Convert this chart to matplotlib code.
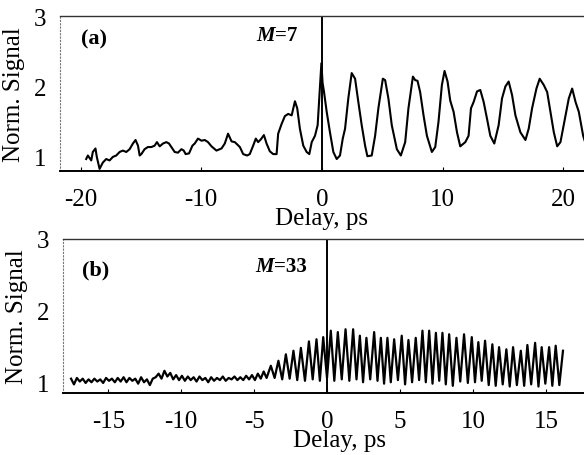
import matplotlib
matplotlib.use("Agg")
import matplotlib.pyplot as plt
import numpy as np

plt.rcParams['font.family'] = ['Liberation Serif', 'DejaVu Serif']

# (a) M=7 trace, delay in ps / normalised signal
a_delay = [-19.53, -19.39, -19.11, -18.98, -18.76, -18.65, -18.42, -18.15, -17.87, -17.59,
           -17.32, -17.04, -16.76, -16.49, -16.21, -15.93, -15.66, -15.44, -15.24, -15.10,
           -14.96, -14.69, -14.42, -14.13, -13.86, -13.67, -13.44, -13.17, -12.89, -12.67,
           -12.47, -12.20, -11.93, -11.64, -11.45, -11.29, -11.01, -10.73, -10.54, -10.27,
           -9.98, -9.71, -9.44, -9.15, -8.74, -8.32, -8.05, -7.78, -7.49, -7.22,
           -6.80, -6.53, -6.20, -5.98, -5.70, -5.48, -5.29, -5.06, -4.81, -4.59,
           -4.32, -4.04, -3.76, -3.63, -3.34, -3.07, -2.80, -2.51, -2.24, -2.05,
           -1.83, -1.55, -1.27, -1.05, -0.85, -0.58, -0.36, -0.17, -0.05, 0.05,
           0.17, 0.39, 0.66, 0.94, 1.22, 1.49, 1.72, 1.91, 2.18, 2.46,
           2.74, 3.01, 3.29, 3.57, 3.76, 4.12, 4.40, 4.67, 5.04, 5.23,
           5.50, 5.78, 6.20, 6.53, 6.89, 7.16, 7.53, 7.72, 7.91, 8.13,
           8.41, 8.69, 9.10, 9.38, 9.65, 9.93, 10.15, 10.40, 10.62, 10.90,
           11.18, 11.45, 11.87, 12.14, 12.34, 12.56, 12.84, 13.11, 13.39, 13.67,
           13.94, 14.27, 14.63, 14.91, 15.19, 15.46, 15.74, 16.02, 16.43, 16.85,
           17.12, 17.40, 17.76, 18.03, 18.37, 18.65, 18.92, 19.20, 19.48, 19.75,
           20.17, 20.44, 20.72, 21.00, 21.27, 21.63, 21.83]
a_signal = [0.97, 1.02, 0.95, 1.07, 1.12, 1.00, 0.83, 0.92, 0.97, 0.95,
            1.00, 1.02, 1.07, 1.09, 1.07, 1.11, 1.19, 1.24, 1.16, 1.02,
            1.04, 1.11, 1.14, 1.14, 1.16, 1.21, 1.15, 1.19, 1.21, 1.19,
            1.14, 1.07, 1.06, 1.11, 1.09, 1.04, 1.05, 1.16, 1.19, 1.26,
            1.23, 1.24, 1.21, 1.15, 1.09, 1.12, 1.19, 1.33, 1.22, 1.21,
            1.14, 1.04, 1.02, 1.04, 1.16, 1.26, 1.21, 1.25, 1.31, 1.19,
            1.08, 1.04, 1.04, 1.33, 1.47, 1.58, 1.61, 1.59, 1.79, 1.69,
            1.40, 1.16, 1.07, 1.04, 1.21, 1.30, 1.45, 2.00, 2.33, 2.05,
            1.92, 1.64, 1.35, 1.07, 0.97, 1.02, 1.26, 1.40, 1.83, 2.19,
            2.11, 1.78, 1.45, 1.16, 1.01, 1.02, 1.30, 1.69, 2.11, 2.09,
            1.83, 1.45, 1.11, 1.02, 1.21, 1.69, 2.14, 2.09, 2.08, 1.92,
            1.59, 1.30, 1.07, 1.14, 1.50, 2.02, 2.22, 2.07, 1.80, 1.64,
            1.35, 1.15, 1.21, 1.30, 1.69, 1.78, 1.93, 1.95, 1.78, 1.54,
            1.30, 1.19, 1.45, 1.83, 2.00, 2.07, 1.88, 1.59, 1.35, 1.24,
            1.40, 1.69, 1.97, 2.11, 2.02, 1.92, 1.64, 1.35, 1.15, 1.21,
            1.59, 1.83, 1.97, 1.78, 1.64, 1.30, 1.19]

# (b) M=33 trace: flat noisy part before the fringes start
b_pre_delay = [-17.55, -17.35, -17.15, -16.95, -16.75, -16.55, -16.35, -16.15, -15.95, -15.75,
               -15.55, -15.35, -15.15, -14.95, -14.75, -14.55, -14.35, -14.15, -13.95, -13.75,
               -13.55, -13.35, -13.15, -12.95, -12.75, -12.55, -12.35, -12.15, -11.95, -11.75,
               -11.55, -11.35, -11.15, -10.95, -10.75, -10.55, -10.35, -10.15, -9.95, -9.75,
               -9.55, -9.35, -9.15, -8.95, -8.75, -8.55, -8.35, -8.15, -7.95, -7.75,
               -7.55, -7.35, -7.15, -6.95, -6.75, -6.55, -6.35, -6.15, -5.95, -5.75,
               -5.55, -5.35, -5.15, -4.95, -4.75, -4.55, -4.35, -4.15]
b_pre_signal = [1.05, 0.97, 1.06, 1.01, 1.05, 0.99, 1.04, 1.00, 1.05, 1.01,
                1.04, 0.99, 1.06, 1.02, 1.05, 1.00, 1.06, 1.01, 1.07, 1.00,
                1.06, 1.02, 1.05, 0.98, 1.07, 1.00, 1.04, 0.96, 1.05, 1.07,
                1.12, 1.05, 1.16, 1.08, 1.13, 1.04, 1.10, 1.03, 1.09, 1.02,
                1.08, 1.03, 1.07, 1.01, 1.08, 1.03, 1.06, 1.00, 1.07, 1.02,
                1.06, 1.03, 1.08, 1.02, 1.06, 1.04, 1.08, 1.03, 1.07, 1.03,
                1.09, 1.04, 1.10, 1.03, 1.12, 1.05, 1.15, 1.06]

# (b) fringe maxima
b_peak_delay = [-3.86, -3.34, -2.83, -2.31, -1.80, -1.25, -0.73, -0.27, 0.25, 0.73,
                1.26, 1.78, 2.24, 2.69, 3.22, 3.68, 4.13, 4.59, 5.11, 5.57,
                6.07, 6.53, 6.99, 7.45, 7.90, 8.36, 8.86, 9.38, 9.91, 10.36,
                10.82, 11.32, 11.78, 12.28, 12.74, 13.27, 13.72, 14.25, 14.70, 15.21,
                15.66, 16.16]
b_peak_signal = [1.23, 1.30, 1.39, 1.44, 1.48, 1.57, 1.60, 1.63, 1.72, 1.70,
                 1.74, 1.74, 1.65, 1.62, 1.70, 1.62, 1.62, 1.60, 1.65, 1.59,
                 1.62, 1.72, 1.72, 1.69, 1.69, 1.67, 1.62, 1.67, 1.63, 1.56,
                 1.58, 1.53, 1.49, 1.46, 1.49, 1.44, 1.52, 1.55, 1.49, 1.49,
                 1.51, 1.44]

# (b) fringe minima
b_trough_delay = [-3.60, -3.08, -2.57, -2.05, -1.52, -0.99, -0.50, -0.01, 0.49, 1.00,
                  1.52, 2.01, 2.46, 2.95, 3.45, 3.90, 4.36, 4.85, 5.34, 5.82,
                  6.30, 6.76, 7.22, 7.68, 8.13, 8.61, 9.12, 9.64, 10.13, 10.59,
                  11.07, 11.55, 12.03, 12.51, 13.00, 13.50, 13.98, 14.48, 14.95, 15.43,
                  15.91]
b_trough_signal = [1.06, 1.04, 1.05, 1.03, 1.02, 1.04, 1.02, 1.06, 1.02, 1.04,
                   1.02, 1.04, 1.00, 1.04, 1.02, 0.98, 1.00, 1.03, 0.97, 1.00,
                   1.03, 1.00, 0.98, 1.02, 0.97, 0.95, 1.01, 0.99, 1.00, 1.02,
                   0.96, 0.95, 0.97, 0.94, 0.96, 0.95, 0.97, 0.94, 0.98, 0.95,
                   0.96]

b_delay = np.array(b_pre_delay + b_peak_delay + b_trough_delay)
b_signal = np.array(b_pre_signal + b_peak_signal + b_trough_signal)
order = np.argsort(b_delay)
b_delay, b_signal = b_delay[order], b_signal[order]

fig = plt.figure(figsize=(5.84, 4.56), dpi=100)
ax1 = fig.add_axes([0.1027, 0.6228, 0.8973, 0.3399])
ax2 = fig.add_axes([0.1079, 0.1360, 0.8921, 0.3377])


def style(ax, xlim, ylim, xticks):
    ax.set_xlim(*xlim)
    ax.set_ylim(*ylim)
    ax.set_xticks(xticks)
    ax.set_xticklabels([str(t) for t in xticks])
    ax.set_yticks([1, 2, 3])
    ax.spines['right'].set_visible(False)
    ax.spines['top'].set_linewidth(1.0)
    ax.spines['top'].set_color('#333333')
    ax.spines['bottom'].set_linewidth(1.4)
    ax.spines['left'].set_linestyle((0, (1, 2)))
    ax.spines['left'].set_linewidth(0.8)
    ax.spines['left'].set_color('#777777')
    ax.tick_params(axis='x', direction='in', length=3, width=0.8, pad=12, labelsize=18)
    ax.tick_params(axis='y', length=0, pad=10, labelsize=18)
    ax.set_ylabel('Norm. Signal', fontsize=18, labelpad=6)
    ax.set_xlabel('Delay, ps', fontsize=18)
    ax.axvline(0, color='black', lw=1.4)


def label_m(ax, x, y, value):
    m = ax.text(x, y, 'M', transform=ax.transAxes, fontsize=15,
                fontweight='bold', fontstyle='italic')
    ax.annotate('=' + value, xy=(1, 0), xycoords=m, va='bottom', ha='left',
                fontsize=15, fontweight='bold')


ax1.plot(a_delay, a_signal, color='black', lw=1.5)
style(ax1, (-21.7, 21.7), (0.8, 3.0), [-20, -10, 0, 10, 20])
ax1.xaxis.set_label_coords(0.5, -0.235)
ax1.text(0.04, 0.82, '(a)', transform=ax1.transAxes, fontsize=16, fontweight='bold')
label_m(ax1, 0.375, 0.845, '7')

ax2.plot(b_delay, b_signal, color='black', lw=1.6)
style(ax2, (-18.1, 17.6), (0.85, 3.0), [-15, -10, -5, 0, 5, 10, 15])
ax2.xaxis.set_label_coords(0.53, -0.235)
ax2.text(0.037, 0.77, '(b)', transform=ax2.transAxes, fontsize=16, fontweight='bold')
label_m(ax2, 0.37, 0.795, '33')

fig.savefig('out.png', dpi=100)
